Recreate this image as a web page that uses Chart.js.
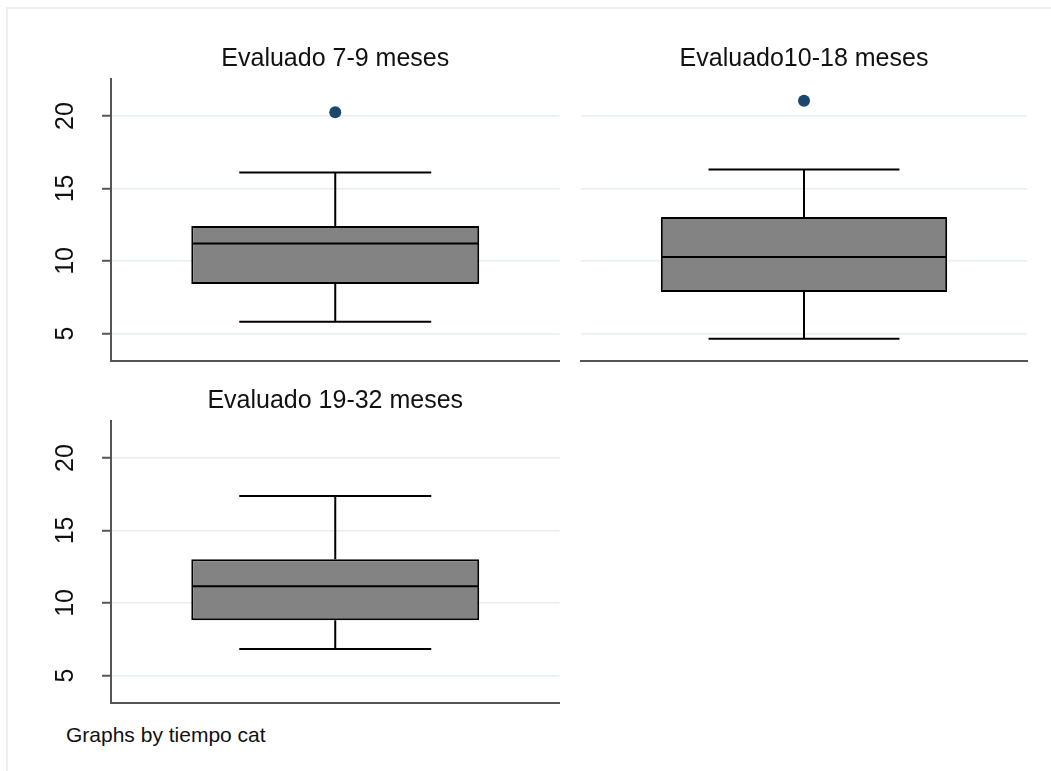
<!DOCTYPE html>
<html>
<head>
<meta charset="utf-8">
<script src="https://cdn.jsdelivr.net/npm/chart.js@4.4.0/dist/chart.umd.min.js"></script>
<style>
  body { margin: 0; background: #fff; }
  #page { position: relative; width: 1051px; height: 771px; background: #fff; overflow: hidden; font-family: "Liberation Sans", Arial, sans-serif; }
  #frame { position: absolute; left: 6px; top: 7px; right: 0; bottom: 0; border-top: 2px solid #e9eff2; border-left: 2px solid #e9eff2; }
  .panel { position: absolute; }
  #note { position: absolute; left: 66px; top: 724px; font-size: 21px; line-height: 21px; color: #111; }
</style>
</head>
<body>
<div id="page">
  <div id="frame"></div>
  <canvas id="c0" class="panel" width="575" height="340" style="left:0px;top:30px"></canvas>
  <canvas id="c1" class="panel" width="476" height="340" style="left:575px;top:30px"></canvas>
  <canvas id="c2" class="panel" width="575" height="340" style="left:0px;top:372px"></canvas>
  <div id="note">Graphs by tiempo cat</div>
</div>
<script>
// data
var panelTitles = ['Evaluado 7-9 meses', 'Evaluado10-18 meses', 'Evaluado 19-32 meses'];
var lowerWhisker = [5.8, 4.64, 6.83];
var q1 = [8.41, 7.86, 8.8];
var median = [11.21, 10.28, 11.15];
var q3 = [12.41, 13.03, 13.01];
var upperWhisker = [16.1, 16.3, 17.38];
var outliers = [[20.26], [21.05], []];
var yTicks = [5, 10, 15, 20];

var fontFamily = '"Liberation Sans", Arial, sans-serif';

// whiskers, caps and median line on top of the box
var whiskerPlugin = {
    id: 'whiskers',
    afterDatasetsDraw: function(chart) {
        var i = chart.options.plugins.whiskers.group;
        var box = chart.getDatasetMeta(0).data[0];
        var y = chart.scales.y;
        var ctx = chart.ctx;
        var half = box.width / 2;
        var cap = box.width / 3;
        ctx.save();
        ctx.strokeStyle = '#000';
        ctx.lineWidth = 2;
        ctx.lineCap = 'butt';
        ctx.beginPath();
        // upper whisker
        ctx.moveTo(box.x, y.getPixelForValue(q3[i]));
        ctx.lineTo(box.x, y.getPixelForValue(upperWhisker[i]));
        ctx.moveTo(box.x - cap, y.getPixelForValue(upperWhisker[i]));
        ctx.lineTo(box.x + cap, y.getPixelForValue(upperWhisker[i]));
        // lower whisker
        ctx.moveTo(box.x, y.getPixelForValue(q1[i]));
        ctx.lineTo(box.x, y.getPixelForValue(lowerWhisker[i]));
        ctx.moveTo(box.x - cap, y.getPixelForValue(lowerWhisker[i]));
        ctx.lineTo(box.x + cap, y.getPixelForValue(lowerWhisker[i]));
        // median
        ctx.moveTo(box.x - half + 1, y.getPixelForValue(median[i]));
        ctx.lineTo(box.x + half - 1, y.getPixelForValue(median[i]));
        ctx.stroke();
        ctx.restore();
    }
};

function makePanel(i, showAxis, pad) {
    var ctx = document.getElementById('c' + i).getContext('2d');
    return new Chart(ctx, {
        type: 'bar',
        data: {
            labels: [panelTitles[i]],
            datasets: [{
                type: 'bar',
                data: [[q1[i], q3[i]]],
                backgroundColor: '#838383',
                borderColor: '#000',
                borderWidth: 2,
                borderSkipped: false,
                barPercentage: 0.642,
                categoryPercentage: 1,
                grouped: false
            }, {
                type: 'line',
                data: outliers[i].map(function(v) { return {x: panelTitles[i], y: v}; }),
                showLine: false,
                pointRadius: 6,
                pointBackgroundColor: '#1a476f',
                pointBorderColor: '#1a476f',
                pointBorderWidth: 0
            }]
        },
        options: {
            responsive: false,
            animation: false,
            devicePixelRatio: 1,
            layout: { padding: pad },
            plugins: {
                legend: { display: false },
                tooltip: { enabled: false },
                whiskers: { group: i },
                title: {
                    display: true,
                    fullSize: false,
                    text: panelTitles[i],
                    color: '#111',
                    font: { family: fontFamily, size: 25, weight: 'normal', lineHeight: 1.2 },
                    padding: { top: 14, bottom: 5 }
                }
            },
            scales: {
                x: {
                    ticks: { display: false },
                    grid: { display: false },
                    border: { display: true, color: '#555', width: 2 },
                    afterFit: function(s) { s.height = 0; }
                },
                y: {
                    min: 3.1,
                    max: 22.55,
                    afterBuildTicks: function(s) {
                        s.ticks = yTicks.map(function(v) { return {value: v}; });
                    },
                    ticks: {
                        display: showAxis,
                        minRotation: 90,
                        maxRotation: 90,
                        crossAlign: 'center',
                        padding: 22.3,
                        color: '#111',
                        font: { family: fontFamily, size: 25 }
                    },
                    grid: {
                        color: '#e6eef1',
                        lineWidth: 1.5,
                        drawTicks: showAxis,
                        tickLength: 9,
                        tickColor: '#555',
                        tickWidth: 2
                    },
                    border: { display: showAxis, color: '#555', width: 2 },
                    afterFit: function(s) {
                        s.width = showAxis ? 111 : 0;
                        s.paddingTop = 0;
                        s.paddingBottom = 0;
                    }
                }
            }
        },
        plugins: [whiskerPlugin]
    });
}

makePanel(0, true, { left: 0, right: 15.5, top: 0, bottom: 9 });
makePanel(1, false, { left: 3, right: 24, top: 0, bottom: 9 });
makePanel(2, true, { left: 0, right: 15.5, top: 0, bottom: 9 });
</script>
</body>
</html>
